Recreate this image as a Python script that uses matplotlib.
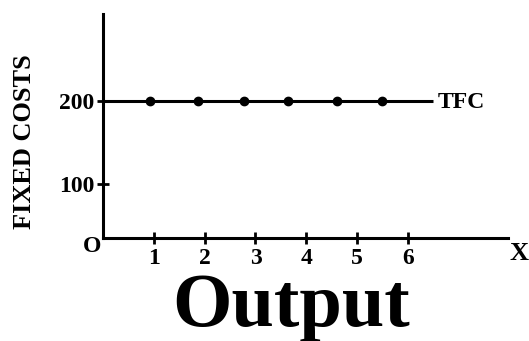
import matplotlib.pyplot as plt

# total fixed cost stays flat whatever the output
output_ticks = [1, 2, 3, 4, 5, 6]
cost_ticks = [100, 200]
dot_output = [0.93, 1.87, 2.78, 3.64, 4.61, 5.49]
dot_cost = [200, 200, 200, 200, 200, 200]
tfc_span = [0, 6.5]
tfc_level = 200

plt.rcParams['font.family'] = ['Liberation Serif', 'DejaVu Serif']
plt.rcParams['font.weight'] = 'bold'

W, H = 529, 341
fig = plt.figure(figsize=(W / 100, H / 100), dpi=100)
ax = fig.add_axes([103 / W, (H - 238) / H, (508 - 103) / W, (238 - 14) / H])

ax.set_xlim(0, 7.97)
ax.set_ylim(35, 305)

ax.plot(tfc_span, [tfc_level, tfc_level], color='black', lw=2.2, solid_capstyle='butt')
ax.plot(dot_output, dot_cost, 'o', color='black', ms=6)

for side in ('top', 'right'):
    ax.spines[side].set_visible(False)
for side in ('left', 'bottom'):
    ax.spines[side].set_linewidth(2.2)

ax.set_xticks(output_ticks)
ax.set_yticks(cost_ticks)
ax.tick_params(direction='inout', length=8, width=2, labelsize=17, pad=2)
ax.tick_params(axis='x', pad=3)

ax.annotate('TFC', xy=(tfc_span[1], tfc_level), xytext=(3, -1),
            textcoords='offset points', va='center', ha='left', fontsize=17)
ax.annotate('O', xy=(0, 35), xytext=(-8, -6), textcoords='offset points',
            va='center', ha='center', fontsize=17)
ax.annotate('X', xy=(7.97, 35), xytext=(8, -11), textcoords='offset points',
            va='center', ha='center', fontsize=19)

fig.text(25 / W, 1 - 142 / H, 'FIXED COSTS', rotation=90, ha='center', va='center',
         fontsize=19)
fig.text(291 / W, 1 - 326 / H, 'Output', ha='center', va='baseline', fontsize=55)

fig.savefig('out.png', dpi=100)
